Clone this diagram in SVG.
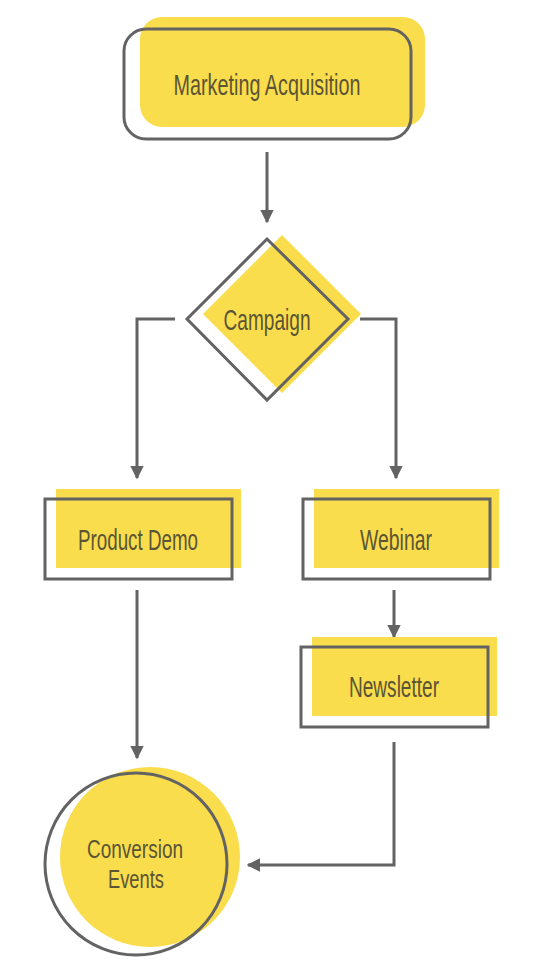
<svg xmlns="http://www.w3.org/2000/svg" width="540" height="978" viewBox="0 0 540 978">
<defs>
<style>
.fill{fill:#FADD4C;stroke:none}
.out{fill:none;stroke:#636363;stroke-width:3}
.lbl{font-family:"Liberation Sans",Arial,sans-serif;font-size:30px;fill:#5b5535;text-anchor:middle}
.sm{font-size:26px}
.conn{fill:none;stroke:#636363;stroke-width:3}
</style>
<marker id="ah" viewBox="0 0 10 10" refX="9" refY="5" markerWidth="4.5" markerHeight="4.5" markerUnits="strokeWidth" orient="auto">
<path d="M0,0 L10,5 L0,10 Z" fill="#636363"/>
</marker>
</defs>
<rect width="540" height="978" fill="#ffffff"/>
<g id="connectors">
<path class="conn" d="M267,152 L267,222" marker-end="url(#ah)"/>
<path class="conn" d="M175,319 L137,319 L137,478" marker-end="url(#ah)"/>
<path class="conn" d="M360,319 L396,319 L396,478" marker-end="url(#ah)"/>
<path class="conn" d="M394,590 L394,637" marker-end="url(#ah)"/>
<path class="conn" d="M137,590 L137,758" marker-end="url(#ah)"/>
<path class="conn" d="M394,742 L394,865 L248,865" marker-end="url(#ah)"/>
</g>
<g id="marketing-acquisition">
<rect class="fill" x="140" y="17" width="285" height="110" rx="22"/>
<rect class="out" x="124" y="29" width="287" height="110" rx="22"/>
<text class="lbl" x="267" y="95" textLength="187" lengthAdjust="spacingAndGlyphs">Marketing Acquisition</text>
</g>
<g id="campaign">
<polygon class="fill" points="282,235 361,314 282,393 203,314"/>
<polygon class="out" points="267,239 348,319 267,400 187,319"/>
<text class="lbl" x="267" y="330" textLength="87" lengthAdjust="spacingAndGlyphs">Campaign</text>
</g>
<g id="product-demo">
<rect class="fill" x="56" y="489" width="185" height="79"/>
<rect class="out" x="45" y="499" width="187" height="80"/>
<text class="lbl" x="138" y="550" textLength="120" lengthAdjust="spacingAndGlyphs">Product Demo</text>
</g>
<g id="webinar">
<rect class="fill" x="314" y="489" width="185" height="79"/>
<rect class="out" x="303" y="499" width="187" height="80"/>
<text class="lbl" x="396" y="550" textLength="72" lengthAdjust="spacingAndGlyphs">Webinar</text>
</g>
<g id="newsletter">
<rect class="fill" x="312" y="637" width="185" height="79"/>
<rect class="out" x="301" y="647" width="187" height="80"/>
<text class="lbl" x="394" y="697" textLength="90" lengthAdjust="spacingAndGlyphs">Newsletter</text>
</g>
<g id="conversion-events">
<circle class="fill" cx="150" cy="857" r="90"/>
<circle class="out" cx="136" cy="864" r="91"/>
<text class="lbl sm" x="135" y="858" textLength="96" lengthAdjust="spacingAndGlyphs">Conversion</text>
<text class="lbl sm" x="136" y="888" textLength="56" lengthAdjust="spacingAndGlyphs">Events</text>
</g>
</svg>
